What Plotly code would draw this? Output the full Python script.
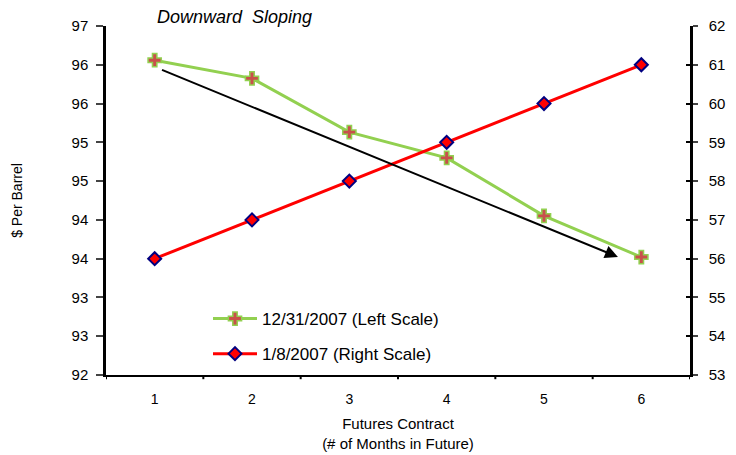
import plotly.graph_objects as go

contracts = [1, 2, 3, 4, 5, 6]
left_series = [96.51, 96.25, 95.48, 95.11, 94.28, 93.69]   # 12/31/2007 (Left Scale)
right_series = [56, 57, 58, 59, 60, 61]                     # 1/8/2007 (Right Scale)
left_tickvals = [92, 92.556, 93.111, 93.667, 94.222, 94.778, 95.333, 95.889, 96.444, 97]
left_ticktext = ["92", "93", "93", "94", "94", "95", "95", "96", "96", "97"]
right_tickvals = [53, 54, 55, 56, 57, 58, 59, 60, 61, 62]
category_edges = [0.5, 1.5, 2.5, 3.5, 4.5, 5.5, 6.5]
arrow_start = (1.06, 96.38)
arrow_end = (5.76, 93.69)

FONT = "Liberation Sans, Arial, sans-serif"

fig = go.Figure()
fig.add_trace(go.Scatter(
    x=contracts, y=left_series, name="12/31/2007 (Left Scale)",
    mode="lines+markers", legendgroup="a",
    line=dict(color="#92D050", width=3),
    marker=dict(symbol="cross", size=11, color="#C8504B",
                line=dict(color="#92D050", width=1.5)),
    yaxis="y"))
fig.add_trace(go.Scatter(
    x=contracts, y=right_series, name="1/8/2007 (Right Scale)",
    mode="lines+markers", legendgroup="b",
    line=dict(color="#FF0000", width=3),
    marker=dict(symbol="diamond", size=10, color="#FF0000",
                line=dict(color="#000080", width=2)),
    yaxis="y2"))

fig.add_annotation(x=arrow_end[0], y=arrow_end[1], ax=arrow_start[0], ay=arrow_start[1],
                   xref="x", yref="y", axref="x", ayref="y",
                   showarrow=True, arrowhead=2, arrowsize=1.3, arrowwidth=2,
                   arrowcolor="black", text="")
fig.add_annotation(x=(155 - 106) / 584, y=(375 - 17) / 349, xref="paper", yref="paper",
                   text="<i>Downward  Sloping</i>", showarrow=False,
                   xanchor="left", yanchor="middle",
                   font=dict(family=FONT, size=18, color="black"))

# x-axis ticks between categories (Excel category style)
for xv in category_edges:
    fig.add_shape(type="line", xref="x", yref="paper", x0=xv, x1=xv, y0=0, y1=-0.012,
                  line=dict(color="black", width=2))

fig.update_layout(
    width=736, height=455,
    margin=dict(l=98, r=54, t=18, b=88, autoexpand=False),
    paper_bgcolor="white", plot_bgcolor="white",
    font=dict(family=FONT, size=14, color="black"),
    showlegend=True,
    legend=dict(x=(208 - 106) / 584, y=(375 - 336.5) / 349, xanchor="left", yanchor="middle",
                font=dict(family=FONT, size=17), tracegroupgap=10, itemwidth=44,
                traceorder="grouped", bgcolor="rgba(0,0,0,0)"),
    xaxis=dict(range=[0.5, 6.5], tickvals=contracts, showgrid=False, zeroline=False,
               showline=True, linecolor="black", linewidth=2, ticks="",
               ticklabelstandoff=10,
               title=dict(text="Futures Contract<br>(# of Months in Future)",
                          font=dict(size=15), standoff=13),
               tickfont=dict(size=14)),
    yaxis=dict(range=[92, 97], tickvals=left_tickvals, ticktext=left_ticktext,
               showgrid=False, zeroline=False, showline=True, linecolor="black",
               linewidth=2.5, ticks="outside", ticklen=7, tickwidth=2,
               ticklabelstandoff=5,
               title=dict(text="$ Per Barrel", font=dict(size=14), standoff=46),
               tickfont=dict(size=15)),
    yaxis2=dict(range=[53, 62], tickvals=right_tickvals, overlaying="y", side="right",
                anchor="x",
                showgrid=False, zeroline=False, showline=True, linecolor="black",
                linewidth=2.5, ticks="outside", ticklen=5, tickwidth=2,
                ticklabelstandoff=8, tickfont=dict(size=15)),
    yaxis3=dict(range=[53, 62], tickvals=right_tickvals, overlaying="y", side="right",
                anchor="x", showgrid=False, zeroline=False, showline=False,
                ticks="inside", ticklen=4, tickwidth=2, tickcolor="black",
                showticklabels=False),
)
# invisible helper trace so the inner right-axis ticks render
fig.add_trace(go.Scatter(x=[contracts[0]], y=[right_series[0]], yaxis="y3",
                         mode="markers", marker=dict(opacity=0), showlegend=False,
                         hoverinfo="skip"))

fig.write_html("out.html")
